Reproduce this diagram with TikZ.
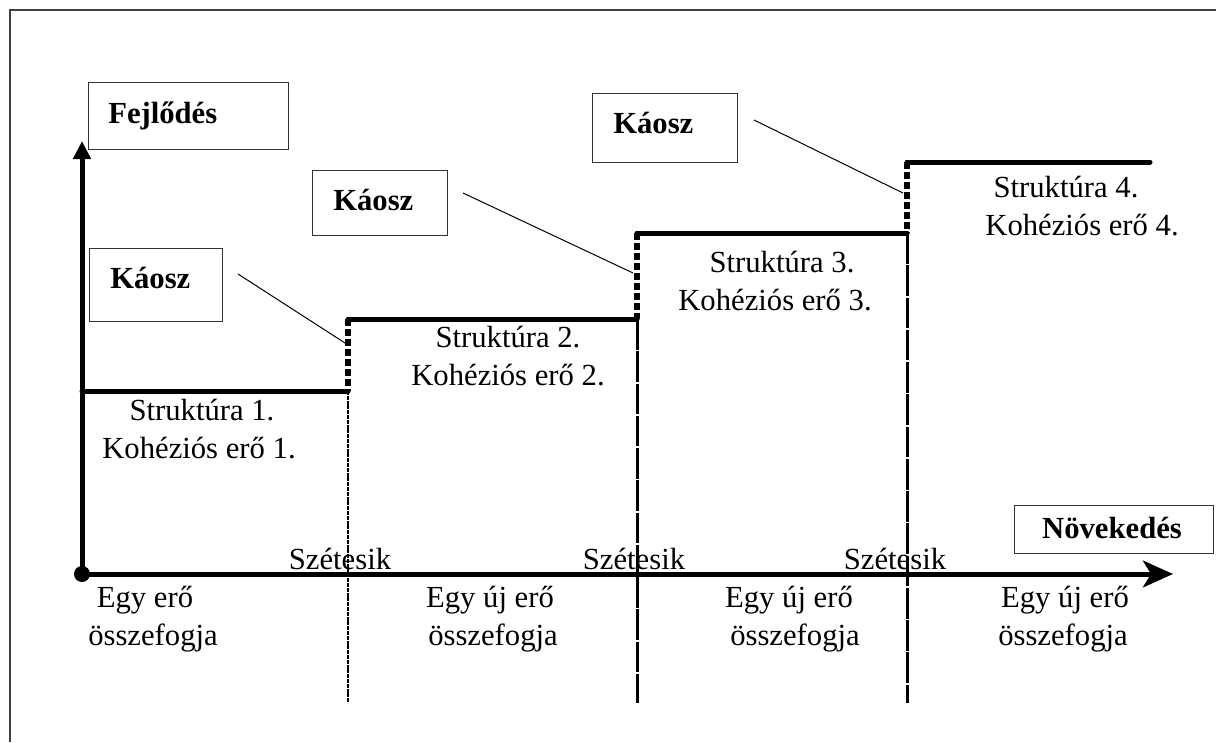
\documentclass[tikz,border=0pt]{standalone}
\usepackage{fontspec}
\setmainfont{Liberation Serif}
\usetikzlibrary{arrows.meta}
\begin{document}
\begin{tikzpicture}[x=0.75pt,y=-0.75pt,
  txt/.style={font=\fontsize{23}{28}\selectfont, inner sep=0pt, anchor=base},
  btxt/.style={font=\fontsize{23}{28}\selectfont\bfseries, inner sep=0pt, anchor=base west},
  box/.style={draw=black!80, line width=1.1pt, anchor=north west, inner sep=0pt},
  axis/.style={line width=3.75pt},
  level/.style={line width=3.75pt, line cap=round},
  chaos/.style={line width=5pt, dash pattern=on 5pt off 2.5pt},
  split/.style={line width=2.25pt, dash pattern=on 23pt off 1.2pt},
  thinsplit/.style={line width=1.6pt, dash pattern=on 3pt off 0.6pt},
  leader/.style={line width=0.75pt},
]
\useasboundingbox (0,0) rectangle (1216,742);
% frame
\draw[line width=1.5pt, black!75] (10,742) -- (10,10) -- (1216,10);

% boxes
\node[box, minimum width=150pt, minimum height=50.25pt] (fej) at (88,82) {};
\node[btxt] (fejt) at (108,123) {Fejlődés};
\node[box, minimum width=99.75pt, minimum height=54.75pt] (k1) at (89,248) {};
\node[btxt] (k1t) at (110,288) {Káosz};
\node[box, minimum width=101.25pt, minimum height=48.75pt] (k2) at (312,170) {};
\node[btxt] (k2t) at (333,210) {Káosz};
\node[box, minimum width=108.75pt, minimum height=51.75pt] (k3) at (592,93) {};
\node[btxt] (k3t) at (613,133) {Káosz};
\node[box, minimum width=149.25pt, minimum height=36pt] (nov) at (1014,505) {};
\node[txt, font=\fontsize{23}{28}\selectfont\bfseries] (novt) at (1112,538) {Növekedés};

% coordinates
\coordinate (O) at (82,574);
\coordinate (ytip) at (82,141);
\coordinate (xtip) at (1173,574);
\coordinate (a1) at (82,391);
\coordinate (b1) at (348,391);
\coordinate (b2) at (348,319);
\coordinate (c2) at (637,319);
\coordinate (c3) at (637,233);
\coordinate (d3) at (907,233);
\coordinate (d4) at (907,162);
\coordinate (e4) at (1150,162);
\coordinate (s1) at (348,703);
\coordinate (s2) at (637,703);
\coordinate (s3) at (907,703);

% split lines
\draw[thinsplit] (b1) -- (s1);
\draw[split] (c2) -- (s2);
\draw[split] (d3) -- (s3);

% axes
\draw[axis, -{Triangle[length=13.5pt,width=12.75pt]}] (O) -- (ytip);
\draw[axis, -{Stealth[length=22.5pt,width=20pt,inset=6pt]}] (O) -- (xtip);
\fill (O) circle (6pt);

% levels
\draw[level] (a1) -- (b1);
\draw[chaos] (b2) -- (b1);
\draw[level] (b2) -- (c2);
\draw[chaos] (c3) -- (c2);
\draw[level] (c3) -- (d3);
\draw[chaos] (d4) -- (d3);
\draw[level] (d4) -- (e4);

% leaders
\coordinate (l1a) at (238,274); \coordinate (l1b) at (345,343);
\coordinate (l2a) at (463,193); \coordinate (l2b) at (633,273);
\coordinate (l3a) at (754,120); \coordinate (l3b) at (903,193);
\draw[leader] (l1a) -- (l1b);
\draw[leader] (l2a) -- (l2b);
\draw[leader] (l3a) -- (l3b);

% structure texts
\node[txt] (s1a) at (202,420) {Struktúra 1.};
\node[txt] (s1b) at (199,458) {Kohéziós erő 1.};
\node[txt] (s2a) at (508,347) {Struktúra 2.};
\node[txt] (s2b) at (508,385) {Kohéziós erő 2.};
\node[txt] (s3a) at (782,272) {Struktúra 3.};
\node[txt] (s3b) at (775,310) {Kohéziós erő 3.};
\node[txt] (s4a) at (1066,197) {Struktúra 4.};
\node[txt] (s4b) at (1082,235) {Kohéziós erő 4.};

% Szétesik
\node[txt] (sz1) at (340,569) {Szétesik};
\node[txt] (sz2) at (634,569) {Szétesik};
\node[txt] (sz3) at (895,569) {Szétesik};

% bottom texts
\node[txt] (e1a) at (145,607) {Egy erő};
\node[txt] (e1b) at (153,645) {összefogja};
\node[txt] (e2a) at (490,607) {Egy új erő};
\node[txt] (e2b) at (493,645) {összefogja};
\node[txt] (e3a) at (789,607) {Egy új erő};
\node[txt] (e3b) at (795,645) {összefogja};
\node[txt] (e4a) at (1065,607) {Egy új erő};
\node[txt] (e4b) at (1063,645) {összefogja};
\end{tikzpicture}
\end{document}
